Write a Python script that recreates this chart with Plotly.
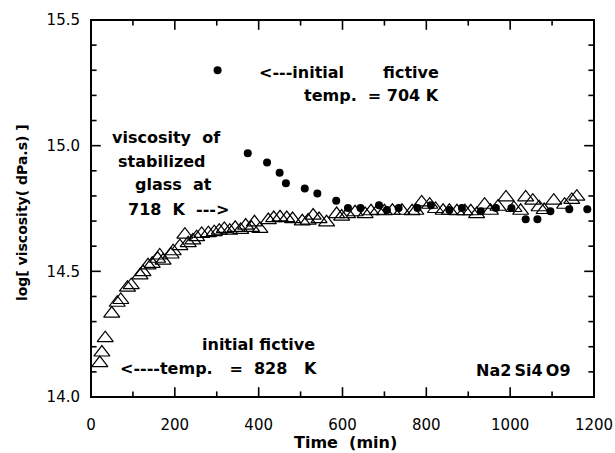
import plotly.graph_objects as go

# Filled circles: initial fictive temp 704 K
t_704 = [302, 374, 420, 450, 465, 510, 540, 585, 613, 643, 687, 706, 734, 779, 811,
         855, 885, 930, 966, 1003, 1037, 1065, 1096, 1141, 1184]
v_704 = [15.30, 14.97, 14.933, 14.892, 14.85, 14.83, 14.81, 14.781, 14.752, 14.752,
         14.763, 14.744, 14.752, 14.752, 14.763, 14.744, 14.752, 14.739, 14.752, 14.752,
         14.707, 14.707, 14.739, 14.747, 14.747]

# Open triangles: initial fictive temp 828 K
t_828 = [21, 26, 34, 49.5, 62.6, 71, 87, 96, 117, 124, 136, 146, 159, 164, 172, 191,
         196, 212, 224, 232, 243, 252, 264, 280, 294, 306, 318, 331, 344, 357, 369, 383,
         390, 403, 423, 436, 451, 467, 481, 504, 518, 530, 544, 562, 586, 598, 612, 630,
         654, 668, 684, 700, 719, 742, 766, 775, 789, 808, 822, 840, 855, 873, 892, 906,
         920, 939, 953, 971, 990, 1009, 1025, 1037, 1054, 1069, 1081, 1104, 1130, 1147, 1159]
v_828 = [14.135, 14.177, 14.234, 14.332, 14.375, 14.386, 14.435, 14.445, 14.484, 14.497,
         14.524, 14.530, 14.550, 14.563, 14.543, 14.567, 14.580, 14.600, 14.646, 14.612,
         14.623, 14.636, 14.649, 14.652, 14.656, 14.662, 14.669, 14.662, 14.673, 14.665,
         14.682, 14.673, 14.695, 14.669, 14.704, 14.712, 14.715, 14.712, 14.708, 14.699,
         14.702, 14.722, 14.708, 14.695, 14.728, 14.718, 14.728, 14.735, 14.728, 14.739,
         14.741, 14.739, 14.741, 14.741, 14.739, 14.741, 14.774, 14.765, 14.748, 14.741,
         14.741, 14.739, 14.739, 14.739, 14.728, 14.765, 14.741, 14.757, 14.794, 14.752,
         14.741, 14.794, 14.781, 14.755, 14.744, 14.781, 14.765, 14.784, 14.797]

x_ticks = [0, 200, 400, 600, 800, 1000, 1200]
x_minor = [100, 300, 500, 700, 900, 1100]
y_ticks = [14.0, 14.5, 15.0, 15.5]
y_minor = [14.1, 14.2, 14.3, 14.4, 14.6, 14.7, 14.8, 14.9, 15.1, 15.2, 15.3, 15.4]
y_tick_text = ["14.0", "14.5", "15.0", "15.5"]
x_range = [0, 1200]
y_range = [14.0, 15.5]

BOLD = "DejaVu Sans"
nb = "&nbsp;"
th = "&#8201;"
MARGIN = dict(l=91, r=21, t=20, b=56)

fig = go.Figure()
fig.add_trace(go.Scatter(x=t_828, y=v_828, mode="markers",
                         marker=dict(symbol="triangle-up-open", size=14, color="black",
                                     line=dict(width=1.2, color="black")),
                         showlegend=False))
fig.add_trace(go.Scatter(x=t_704, y=v_704, mode="markers",
                         marker=dict(symbol="circle", size=8, color="black"),
                         showlegend=False))

# inside tick marks: line markers centred on the frame edges; the outer half is
# clipped by the plot area, leaving an inward tick on every side
def tick_trace(xs, ys, symbol, size):
    fig.add_trace(go.Scatter(x=xs, y=ys, mode="markers", cliponaxis=True,
                             marker=dict(symbol=symbol, size=size, color="black",
                                         line=dict(width=1.6, color="black")),
                             hoverinfo="skip", showlegend=False))


for vals, size in ((x_ticks, 14), (x_minor, 8)):
    tick_trace(vals * 2, [y_range[0]] * len(vals) + [y_range[1]] * len(vals),
               "line-ns-open", size)
for vals, size in ((y_ticks, 14), (y_minor, 8)):
    tick_trace([x_range[0]] * len(vals) + [x_range[1]] * len(vals), vals * 2,
               "line-ew-open", size)

ann = [
    (397, 15.29, "<---initial" + nb * 7 + "fictive", "left"),
    (836, 15.20, "temp." + nb * 2 + "=" + nb + "704" + nb + "K", "right"),
    (180, 15.032, "viscosity" + nb * 2 + "of", "center"),
    (170, 14.937, "stabilized", "center"),
    (197, 14.847, "glass" + nb * 2 + "at", "center"),
    (208, 14.748, "718" + nb * 2 + "K" + nb * 2 + "--->", "center"),
    (399, 14.207, "initial" + nb + "fictive", "center"),
    (64, 14.115, "<----temp." + nb * 3 + "=" + nb * 2 + "828" + nb * 3 + "K", "left"),
    (1150, 14.106, "Na2" + th + "Si4" + th + "O9", "right"),
]
for x, y, txt, anc in ann:
    fig.add_annotation(x=x, y=y, xref="x", yref="y", text="<b>" + txt + "</b>",
                       showarrow=False, xanchor=anc, yanchor="middle",
                       font=dict(family=BOLD, size=16, color="black"))

# axis titles
fig.add_annotation(x=0.505, y=-0.122, xref="paper", yref="paper",
                   text="<b>Time" + nb * 2 + "(min)</b>", showarrow=False,
                   xanchor="center", yanchor="middle",
                   font=dict(family=BOLD, size=16, color="black"))
fig.add_annotation(x=-0.137, y=0.488, xref="paper", yref="paper", textangle=-90,
                   text="<b>log[" + nb + "viscosity(" + nb + "dPa.s)" + nb + "]</b>",
                   showarrow=False, xanchor="center", yanchor="middle",
                   font=dict(family=BOLD, size=14, color="black"))

# plot frame
fig.add_shape(type="rect", xref="x domain", yref="y domain", x0=0, x1=1, y0=0, y1=1,
              line=dict(color="black", width=2), layer="above")

tickfont = dict(family="DejaVu Sans", size=15, color="black")
fig.update_layout(
    xaxis=dict(range=x_range, tickvals=x_ticks, ticktext=[str(v) for v in x_ticks],
               ticks="outside", ticklen=14, tickcolor="rgba(0,0,0,0)",
               showgrid=False, zeroline=False, showline=False,
               tickfont=tickfont, automargin=False),
    yaxis=dict(range=y_range, tickvals=y_ticks, ticktext=y_tick_text,
               ticks="outside", ticklen=7, tickcolor="rgba(0,0,0,0)",
               showgrid=False, zeroline=False, showline=False,
               tickfont=tickfont, automargin=False),
    width=615, height=453,
    margin=MARGIN, paper_bgcolor="white", plot_bgcolor="white", showlegend=False,
)
fig.write_html("out.html", config={"displayModeBar": False},
               post_script="document.body.style.margin='0px';")
